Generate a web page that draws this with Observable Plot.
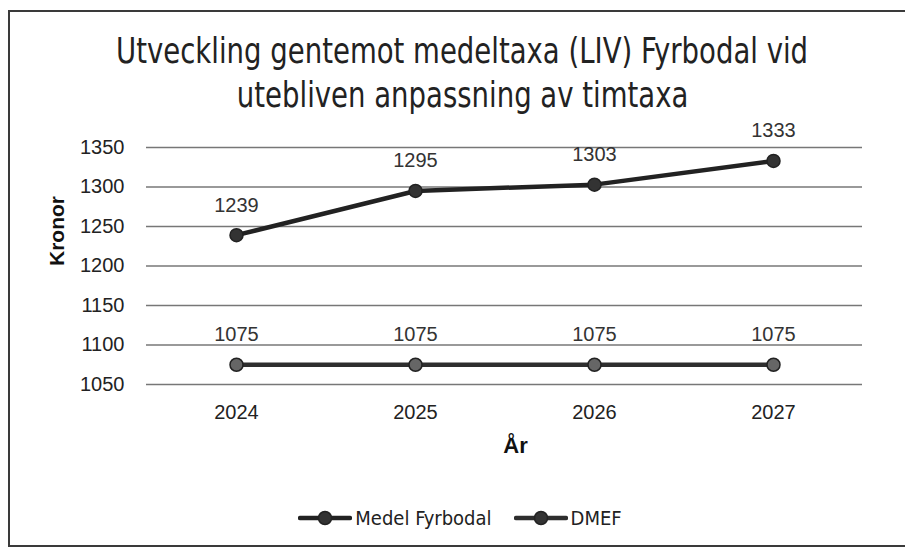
<!DOCTYPE html>
<html><head><meta charset="utf-8">
<script src="https://cdn.jsdelivr.net/npm/d3@7"></script>
<script src="https://cdn.jsdelivr.net/npm/@observablehq/plot@0.6"></script>
<style>
body{margin:0;background:#fff;}
#frame{position:absolute;left:8px;top:10px;width:900px;height:537px;border:2px solid #3a3a3a;border-right:none;box-sizing:border-box;}
#title{position:absolute;left:0;top:29px;width:925px;text-align:center;font-family:"DejaVu Sans Condensed","DejaVu Sans",sans-serif;font-size:36px;line-height:44px;color:#222;}
#title span{display:inline-block;transform:scaleX(0.85);transform-origin:center;white-space:nowrap;}
#chart{position:absolute;left:0;top:120px;}
#legend{position:absolute;left:0;top:506px;width:920px;display:flex;justify-content:center;gap:22px;font-family:"DejaVu Sans Condensed","DejaVu Sans",sans-serif;font-size:20px;color:#222;}
#legend .item{display:flex;align-items:center;gap:3px;}
</style></head>
<body>
<div id="frame"></div>
<div id="title"><span>Utveckling gentemot medeltaxa (LIV) Fyrbodal vid</span><br><span>utebliven anpassning av timtaxa</span></div>
<div id="chart"></div>
<div id="legend"></div>
<script>
const years = ["2024","2025","2026","2027"];
const seriesNames = ["Medel Fyrbodal","DMEF"];
const medelFyrbodal = [1239,1295,1303,1333];
const dmef = [1075,1075,1075,1075];
const yTicks = [1050,1100,1150,1200,1250,1300,1350];
const lineColors = ["#222","#2e2e2e"];
const dotFills = ["#333","#666"];

const data = [];
years.forEach((y,i)=>{
  data.push({year:y, value:medelFyrbodal[i], series:seriesNames[0]});
  data.push({year:y, value:dmef[i], series:seriesNames[1]});
});

const chart = Plot.plot({
  width:905, height:344,
  marginLeft:146, marginRight:43, marginTop:27, marginBottom:80,
  style:{fontFamily:"'Liberation Sans', Arial, sans-serif", fontSize:"20px", color:"#222", background:"transparent"},
  x:{type:"point", domain:years, padding:0.5, label:null},
  y:{domain:[1050,1350], ticks:yTicks, label:null},
  color:{domain:seriesNames, range:lineColors},
  marks:[
    Plot.ruleY(yTicks,{stroke:"#777", strokeWidth:1.3}),
    Plot.axisY({ticks:yTicks, tickSize:0, tickPadding:22, label:null, tickFormat:d=>String(d), fontSize:20}),
    Plot.axisX({tickSize:0, tickPadding:20, label:null, fontSize:20}),
    Plot.line(data,{x:"year", y:"value", z:"series", stroke:"series", strokeWidth:4.5}),
    Plot.dot(data,{x:"year", y:"value", r:6.5, fill:d=>d.series===seriesNames[0]?dotFills[0]:dotFills[1], stroke:"#222", strokeWidth:1.5}),
    Plot.text(data,{x:"year", y:"value", text:d=>String(d.value), dy:-30, fontSize:20, fill:"#333"}),
    Plot.text(["Kronor"],{frameAnchor:"left", dx:-89, rotate:-90, fontWeight:"bold", fontSize:21, fill:"#111"}),
    Plot.text(["År"],{frameAnchor:"bottom", dx:11, dy:68, fontWeight:"bold", fontSize:22, fill:"#111"})
  ]
});
document.getElementById("chart").appendChild(chart);

const legend = document.getElementById("legend");
seriesNames.forEach((name,i)=>{
  const item = document.createElement("div");
  item.className="item";
  item.innerHTML = `<svg width="54" height="20"><line x1="2" y1="10" x2="52" y2="10" stroke="${lineColors[i]}" stroke-width="4.5" stroke-linecap="round"/><circle cx="27" cy="10" r="6.5" fill="#333" stroke="#222" stroke-width="1.5"/></svg><span>${name}</span>`;
  legend.appendChild(item);
});
</script>
</body></html>
